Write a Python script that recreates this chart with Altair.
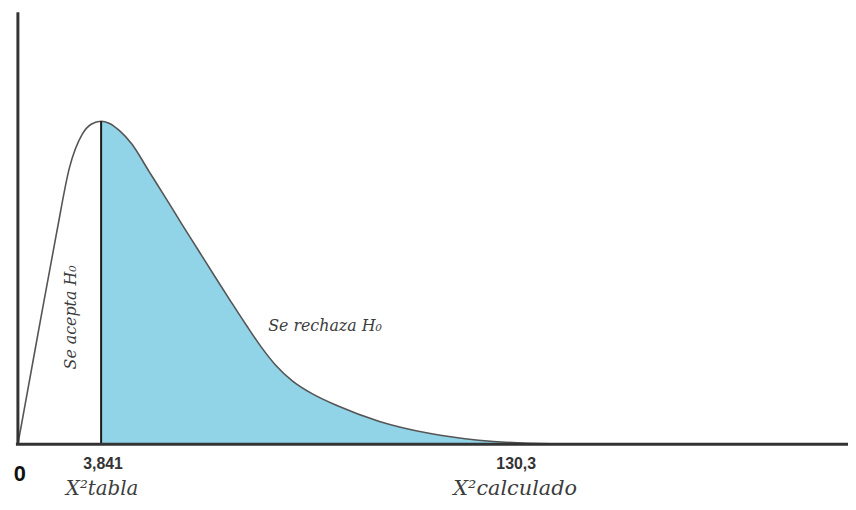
import altair as alt
import pandas as pd

# Curve (x: units to the right of the origin, y: height above baseline)
curve_x = [0, 20, 39, 52, 65, 74, 84, 92, 102, 115, 132, 149, 165, 182, 199, 215, 232, 245, 260, 277, 297, 322, 365, 415, 465, 515, 582, 700, 838]
curve_y = [0, 110, 213, 279, 313, 323, 326, 324, 317, 303, 276, 249, 223, 196, 169, 144, 118, 99, 80, 64, 51, 39, 23, 11, 4, 1, 0, 0, 0]
critical_x = 84
critical_y = 326

curve = pd.DataFrame({"x": curve_x, "y": curve_y})
xs = alt.Scale(domain=[-10, 838], range=[0, 848], nice=False, zero=False)
ys = alt.Scale(domain=[0, 438], range=[438, 0], nice=False, zero=False)

base = alt.Chart(curve)

area = base.transform_filter(alt.datum.x >= critical_x).mark_area(
    color="#92d4e7", interpolate="monotone"
).encode(x=alt.X("x:Q", scale=xs, axis=None), y=alt.Y("y:Q", scale=ys, axis=None))

line = base.mark_line(color="#555555", strokeWidth=1.6, interpolate="monotone").encode(
    x=alt.X("x:Q", scale=xs, axis=None), y=alt.Y("y:Q", scale=ys, axis=None)
)

crit = alt.Chart(pd.DataFrame({"x": [critical_x], "y": [0], "y2": [critical_y]})).mark_rule(
    color="#1a1a1a", strokeWidth=2
).encode(x=alt.X("x:Q", scale=xs, axis=None), y=alt.Y("y:Q", scale=ys, axis=None), y2="y2:Q")

vaxis = alt.Chart(pd.DataFrame({"x": [0], "y": [0], "y2": [436]})).mark_rule(
    color="#333333", strokeWidth=3
).encode(x=alt.X("x:Q", scale=xs, axis=None), y=alt.Y("y:Q", scale=ys, axis=None), y2="y2:Q")

haxis = alt.Chart(pd.DataFrame({"x": [-2], "x2": [838], "y": [0]})).mark_rule(
    color="#333333", strokeWidth=3
).encode(x=alt.X("x:Q", scale=xs, axis=None), x2="x2:Q", y=alt.Y("y:Q", scale=ys, axis=None))


def label(txt, px, py, size, font, style="normal", weight="normal", color="#333333",
          angle=0, baseline="middle"):
    kw = dict(fontSize=size, font=font, fontStyle=style, fontWeight=weight, color=color,
              align="center", baseline=baseline)
    if angle:
        kw["angle"] = angle
    return alt.Chart(pd.DataFrame({"t": [txt]})).mark_text(**kw).encode(
        text="t:N", x=alt.value(px - 8), y=alt.value(py - 8)
    )


texts = [
    label("0", 20, 476, 22, "Liberation Sans", weight="bold", color="#111111"),
    label("3,841", 104, 466, 16, "Liberation Sans", weight="bold"),
    label("130,3", 521, 466, 16, "Liberation Sans", weight="bold"),
    label("X²tabla", 103, 497, 20, "DejaVu Serif", style="italic", color="#3d3d3d",
          baseline="alphabetic"),
    label("X²calculado", 520, 497, 21, "DejaVu Serif", style="italic", color="#3d3d3d",
          baseline="alphabetic"),
    label("Se acepta H₀", 72, 318, 16, "DejaVu Serif", style="italic", color="#3d3d3d", angle=270),
    label("Se rechaza H₀", 328, 327, 16, "DejaVu Serif", style="italic", color="#3d3d3d"),
]

chart = alt.layer(area, line, crit, vaxis, haxis, *texts).properties(
    width=848, height=494, autosize=alt.AutoSizeParams(type="none"), padding=0
).configure_view(stroke=None)

chart.save("out.html", embed_options={"renderer": "svg", "actions": False})
